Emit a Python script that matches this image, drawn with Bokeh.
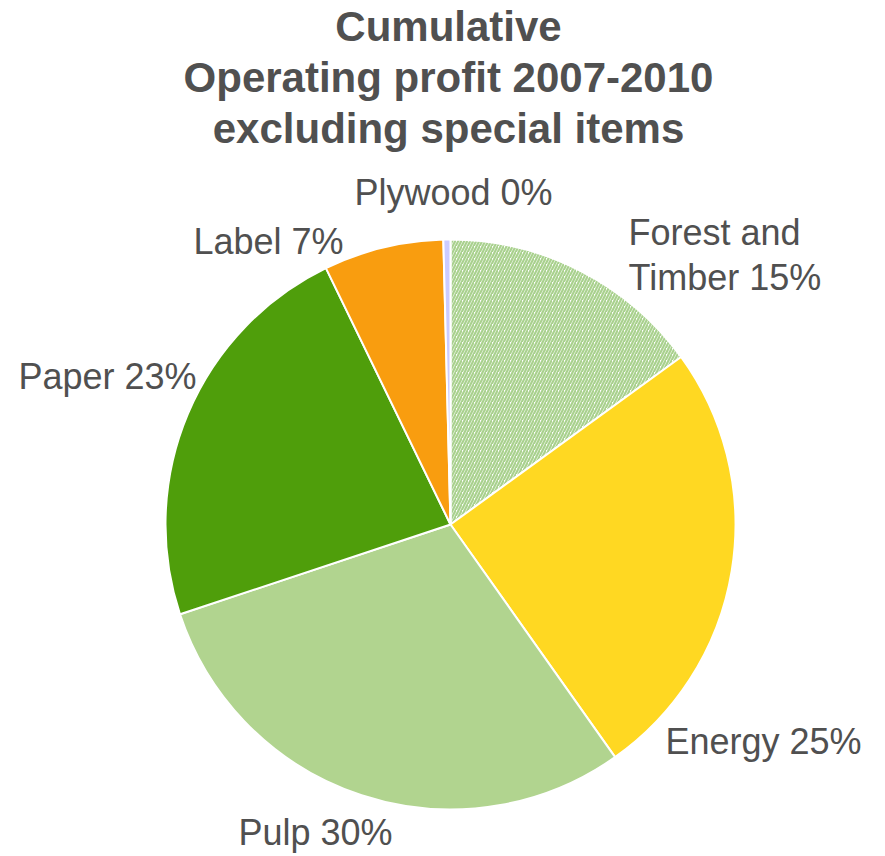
import math
from bokeh.plotting import figure
from bokeh.models import Range1d, ColumnDataSource
from bokeh.core.properties import value
from bokeh.embed import file_html
from bokeh.resources import INLINE

categories = ["Forest and Timber", "Energy", "Pulp", "Paper", "Label", "Plywood"]
shares = [15.0, 25.2, 29.7, 22.9, 6.8, 0.4]
label_texts = ["Forest and\nTimber 15%", "Energy 25%", "Pulp 30%", "Paper 23%", "Label 7%", "Plywood 0%"]
colors = ["#ffffff", "#FFD822", "#B1D48F", "#4F9E0B", "#F99D0F", "#CCCCFF"]
title_lines = ["Cumulative", "Operating profit 2007-2010", "excluding special items"]

W, H = 885, 856
p = figure(width=W, height=H, output_backend="svg", toolbar_location=None,
           x_range=Range1d(0, W), y_range=Range1d(0, H), min_border=0)
p.axis.visible = False
p.grid.visible = False
p.outline_line_color = None
p.background_fill_color = "white"
p.border_fill_color = "white"

cx, cy, r = 450, H - 524, 285
total = sum(shares)
starts, ends = [], []
cum = 0.0
for s in shares:
    a0 = math.pi / 2 - 2 * math.pi * (cum + s) / total
    a1 = math.pi / 2 - 2 * math.pi * cum / total
    starts.append(a0)
    ends.append(a1)
    cum += s

hatch = ["/" if c == "Forest and Timber" else " " for c in categories]
src = ColumnDataSource(dict(start=starts, end=ends, color=colors, hatch=hatch, cat=categories))
p.wedge(x=cx, y=cy, radius=r, start_angle="start", end_angle="end", source=src,
        fill_color="color", line_color="white", line_width=2,
        hatch_pattern="hatch", hatch_color="#A9D18E", hatch_weight=2.2, hatch_scale=6)

# slice labels
lab_x = [628, 665, 315, 18, 193, 453]
lab_y = [232, 741, 832, 376, 241, 192]
aligns = ["left", "left", "center", "left", "left", "center"]
for t, x, y, al in zip(label_texts, lab_x, lab_y, aligns):
    lines = t.split("\n")
    for k, ln in enumerate(lines):
        p.text(x=[x], y=[H - (y + 45 * k)], text=[ln], text_align=al, text_baseline="middle",
               text_font=value("Liberation Sans"), text_font_size="36px", text_color="#505050")

# title
for k, ln in enumerate(title_lines):
    p.text(x=[448], y=[H - (26 + 51 * k)], text=[ln], text_align="center", text_baseline="middle",
           text_font=value("Liberation Sans"), text_font_size="42px", text_font_style="bold",
           text_color="#505050")

open("out.html", "w").write(file_html(p, INLINE))
